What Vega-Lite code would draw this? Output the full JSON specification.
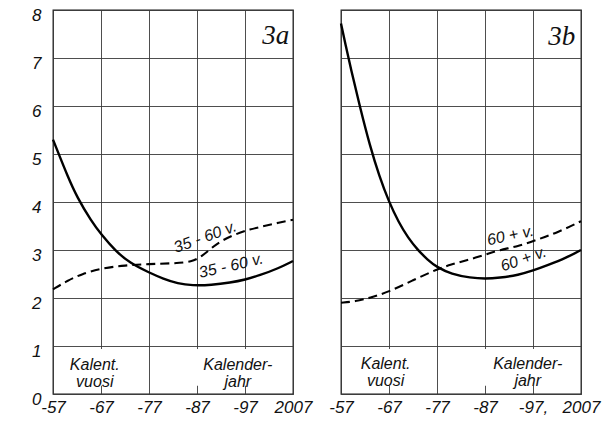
{
  "$schema": "https://vega.github.io/schema/vega-lite/v6.json",
  "background": "white",
  "padding": {"left": 30, "top": 5, "right": 5, "bottom": 5},
  "bounds": "flush",
  "spacing": 48,
  "datasets": {
    "curves": [
      {"panel": "a", "series": "solid", "year": 1957, "value": 5.3},
      {"panel": "a", "series": "solid", "year": 1958, "value": 5.05},
      {"panel": "a", "series": "solid", "year": 1960, "value": 4.55},
      {"panel": "a", "series": "solid", "year": 1962, "value": 4.1},
      {"panel": "a", "series": "solid", "year": 1965, "value": 3.6},
      {"panel": "a", "series": "solid", "year": 1967, "value": 3.33},
      {"panel": "a", "series": "solid", "year": 1970, "value": 2.98},
      {"panel": "a", "series": "solid", "year": 1973, "value": 2.73},
      {"panel": "a", "series": "solid", "year": 1977, "value": 2.53},
      {"panel": "a", "series": "solid", "year": 1980, "value": 2.4},
      {"panel": "a", "series": "solid", "year": 1983, "value": 2.3},
      {"panel": "a", "series": "solid", "year": 1986, "value": 2.26},
      {"panel": "a", "series": "solid", "year": 1990, "value": 2.27},
      {"panel": "a", "series": "solid", "year": 1994, "value": 2.32},
      {"panel": "a", "series": "solid", "year": 1997, "value": 2.38},
      {"panel": "a", "series": "solid", "year": 2000, "value": 2.47},
      {"panel": "a", "series": "solid", "year": 2004, "value": 2.62},
      {"panel": "a", "series": "solid", "year": 2007, "value": 2.77},
      {"panel": "a", "series": "dashed", "year": 1957, "value": 2.18},
      {"panel": "a", "series": "dashed", "year": 1960, "value": 2.36},
      {"panel": "a", "series": "dashed", "year": 1963, "value": 2.5},
      {"panel": "a", "series": "dashed", "year": 1967, "value": 2.62},
      {"panel": "a", "series": "dashed", "year": 1972, "value": 2.68},
      {"panel": "a", "series": "dashed", "year": 1977, "value": 2.71},
      {"panel": "a", "series": "dashed", "year": 1982, "value": 2.72},
      {"panel": "a", "series": "dashed", "year": 1986, "value": 2.75},
      {"panel": "a", "series": "dashed", "year": 1988, "value": 2.87},
      {"panel": "a", "series": "dashed", "year": 1990, "value": 3.04},
      {"panel": "a", "series": "dashed", "year": 1992, "value": 3.19},
      {"panel": "a", "series": "dashed", "year": 1995, "value": 3.33},
      {"panel": "a", "series": "dashed", "year": 1998, "value": 3.43},
      {"panel": "a", "series": "dashed", "year": 2001, "value": 3.5},
      {"panel": "a", "series": "dashed", "year": 2004, "value": 3.57},
      {"panel": "a", "series": "dashed", "year": 2007, "value": 3.63},
      {"panel": "b", "series": "solid", "year": 1957, "value": 7.72},
      {"panel": "b", "series": "solid", "year": 1958, "value": 7.25},
      {"panel": "b", "series": "solid", "year": 1959, "value": 6.8},
      {"panel": "b", "series": "solid", "year": 1961, "value": 5.96},
      {"panel": "b", "series": "solid", "year": 1963, "value": 5.18},
      {"panel": "b", "series": "solid", "year": 1965, "value": 4.53},
      {"panel": "b", "series": "solid", "year": 1967, "value": 4.0},
      {"panel": "b", "series": "solid", "year": 1969, "value": 3.58},
      {"panel": "b", "series": "solid", "year": 1971, "value": 3.25},
      {"panel": "b", "series": "solid", "year": 1973, "value": 3.0},
      {"panel": "b", "series": "solid", "year": 1975, "value": 2.8},
      {"panel": "b", "series": "solid", "year": 1977, "value": 2.64},
      {"panel": "b", "series": "solid", "year": 1980, "value": 2.5},
      {"panel": "b", "series": "solid", "year": 1984, "value": 2.42},
      {"panel": "b", "series": "solid", "year": 1987, "value": 2.4},
      {"panel": "b", "series": "solid", "year": 1990, "value": 2.42},
      {"panel": "b", "series": "solid", "year": 1994, "value": 2.48},
      {"panel": "b", "series": "solid", "year": 1997, "value": 2.57},
      {"panel": "b", "series": "solid", "year": 2000, "value": 2.68},
      {"panel": "b", "series": "solid", "year": 2004, "value": 2.84},
      {"panel": "b", "series": "solid", "year": 2007, "value": 3.0},
      {"panel": "b", "series": "dashed", "year": 1957, "value": 1.9},
      {"panel": "b", "series": "dashed", "year": 1960, "value": 1.93},
      {"panel": "b", "series": "dashed", "year": 1963, "value": 2.0},
      {"panel": "b", "series": "dashed", "year": 1967, "value": 2.13},
      {"panel": "b", "series": "dashed", "year": 1972, "value": 2.37},
      {"panel": "b", "series": "dashed", "year": 1977, "value": 2.6},
      {"panel": "b", "series": "dashed", "year": 1980, "value": 2.7},
      {"panel": "b", "series": "dashed", "year": 1983, "value": 2.78},
      {"panel": "b", "series": "dashed", "year": 1987, "value": 2.9},
      {"panel": "b", "series": "dashed", "year": 1990, "value": 3.0},
      {"panel": "b", "series": "dashed", "year": 1994, "value": 3.08},
      {"panel": "b", "series": "dashed", "year": 1998, "value": 3.22},
      {"panel": "b", "series": "dashed", "year": 2002, "value": 3.36},
      {"panel": "b", "series": "dashed", "year": 2007, "value": 3.6}
    ],
    "labels": [
      {"panel": "a", "id": "title", "text": "3a", "year": 2006.2, "value": 7.3},
      {"panel": "a", "id": "upper", "text": "35 - 60 v.", "year": 1988.7, "value": 3.27},
      {"panel": "a", "id": "lower", "text": "35 - 60 v.", "year": 1994.1, "value": 2.67},
      {"panel": "a", "id": "note", "text": "Kalent.\nvuosi", "year": 1965.7, "value": 0.6},
      {"panel": "a", "id": "note", "text": "Kalender-\njahr", "year": 1995.5, "value": 0.6},
      {"panel": "b", "id": "title", "text": "3b", "year": 2005.8, "value": 7.27},
      {"panel": "b", "id": "upper", "text": "60 + v.", "year": 1992.3, "value": 3.3},
      {"panel": "b", "id": "lower", "text": "60 + v.", "year": 1995.0, "value": 2.81},
      {"panel": "b", "id": "note", "text": "Kalent.\nvuosi", "year": 1966.3, "value": 0.62},
      {"panel": "b", "id": "note", "text": "Kalender-\njahr", "year": 1995.9, "value": 0.62}
    ],
    "boxes": [
      {"panel": "a", "year": 1959, "year2": 1975.5, "value": 0.17, "value2": 0.94},
      {"panel": "a", "year": 1979, "year2": 2005.5, "value": 0.17, "value2": 0.94},
      {"panel": "b", "year": 1959, "year2": 1975.5, "value": 0.17, "value2": 0.94},
      {"panel": "b", "year": 1979, "year2": 2005.5, "value": 0.17, "value2": 0.94}
    ]
  },
  "config": {
    "view": {"stroke": "#1a1a1a", "strokeWidth": 1.3},
    "axis": {
      "grid": true, "gridColor": "#3a3a3a", "gridWidth": 0.9, "gridOpacity": 1,
      "domain": false, "ticks": false, "title": null,
      "labelFont": "Liberation Sans", "labelFontStyle": "italic", "labelFontSize": 17,
      "labelColor": "#111", "labelOverlap": false, "labelFlush": false
    },
    "text": {"font": "Liberation Sans", "fontStyle": "italic", "color": "#111"}
  },
  "hconcat": [
    {
      "width": 240,
      "height": 384,
      "layer": [
        {
          "data": {"name": "boxes"},
          "transform": [{"filter": "datum.panel == 'a'"}],
          "mark": {"type": "rect", "fill": "white"},
          "encoding": {
            "x": {"field": "year", "type": "quantitative", "scale": {"domain": [1957, 2007], "nice": false, "zero": false},
                  "axis": {"values": [1957, 1967, 1977, 1987, 1997, 2007], "labelPadding": 5,
                           "labelExpr": "datum.value == 2007 ? '2007' : '-' + (datum.value - 1900)"}},
            "x2": {"field": "year2"},
            "y": {"field": "value", "type": "quantitative", "scale": {"domain": [0, 8], "nice": false, "zero": true},
                  "axis": {"values": [0, 1, 2, 3, 4, 5, 6, 7, 8], "labelPadding": 12, "labelOffset": 5}},
            "y2": {"field": "value2"}
          }
        },
        {
          "data": {"name": "curves"},
          "transform": [{"filter": "datum.panel == 'a' && datum.series == 'dashed'"}],
          "mark": {"type": "line", "interpolate": "basis", "color": "black", "strokeWidth": 2.1, "strokeDash": [9, 5]},
          "encoding": {
            "x": {"field": "year", "type": "quantitative"},
            "y": {"field": "value", "type": "quantitative"}
          }
        },
        {
          "data": {"name": "curves"},
          "transform": [{"filter": "datum.panel == 'a' && datum.series == 'solid'"}],
          "mark": {"type": "line", "interpolate": "basis", "color": "black", "strokeWidth": 2.4},
          "encoding": {
            "x": {"field": "year", "type": "quantitative"},
            "y": {"field": "value", "type": "quantitative"}
          }
        },
        {
          "data": {"name": "labels"},
          "transform": [{"filter": "datum.panel == 'a' && datum.id == 'title'"}],
          "mark": {"type": "text", "font": "Liberation Serif", "fontStyle": "italic", "fontSize": 27, "align": "right", "baseline": "alphabetic"},
          "encoding": {
            "x": {"field": "year", "type": "quantitative"},
            "y": {"field": "value", "type": "quantitative"},
            "text": {"field": "text"}
          }
        },
        {
          "data": {"name": "labels"},
          "transform": [{"filter": "datum.panel == 'a' && datum.id == 'upper'"}],
          "mark": {"type": "text", "fontSize": 16, "align": "center", "baseline": "middle", "angle": -20},
          "encoding": {
            "x": {"field": "year", "type": "quantitative"},
            "y": {"field": "value", "type": "quantitative"},
            "text": {"field": "text"}
          }
        },
        {
          "data": {"name": "labels"},
          "transform": [{"filter": "datum.panel == 'a' && datum.id == 'lower'"}],
          "mark": {"type": "text", "fontSize": 16, "align": "center", "baseline": "middle", "angle": -13},
          "encoding": {
            "x": {"field": "year", "type": "quantitative"},
            "y": {"field": "value", "type": "quantitative"},
            "text": {"field": "text"}
          }
        },
        {
          "data": {"name": "labels"},
          "transform": [{"filter": "datum.panel == 'a' && datum.id == 'note'"}],
          "mark": {"type": "text", "fontSize": 16, "align": "center", "baseline": "middle", "lineBreak": "\n", "lineHeight": 16.5},
          "encoding": {
            "x": {"field": "year", "type": "quantitative"},
            "y": {"field": "value", "type": "quantitative"},
            "text": {"field": "text"}
          }
        }
      ]
    },
    {
      "width": 240,
      "height": 384,
      "layer": [
        {
          "data": {"name": "boxes"},
          "transform": [{"filter": "datum.panel == 'b'"}],
          "mark": {"type": "rect", "fill": "white"},
          "encoding": {
            "x": {"field": "year", "type": "quantitative", "scale": {"domain": [1957, 2007], "nice": false, "zero": false},
                  "axis": {"values": [1957, 1967, 1977, 1987, 1997, 2007], "labelPadding": 5,
                           "labelExpr": "datum.value == 2007 ? '2007' : datum.value == 1997 ? '-97,' : '-' + (datum.value - 1900)"}},
            "x2": {"field": "year2"},
            "y": {"field": "value", "type": "quantitative", "scale": {"domain": [0, 8], "nice": false, "zero": true},
                  "axis": {"values": [0, 1, 2, 3, 4, 5, 6, 7, 8], "labels": false}},
            "y2": {"field": "value2"}
          }
        },
        {
          "data": {"name": "curves"},
          "transform": [{"filter": "datum.panel == 'b' && datum.series == 'dashed'"}],
          "mark": {"type": "line", "interpolate": "basis", "color": "black", "strokeWidth": 2.1, "strokeDash": [9, 5]},
          "encoding": {
            "x": {"field": "year", "type": "quantitative"},
            "y": {"field": "value", "type": "quantitative"}
          }
        },
        {
          "data": {"name": "curves"},
          "transform": [{"filter": "datum.panel == 'b' && datum.series == 'solid'"}],
          "mark": {"type": "line", "interpolate": "basis", "color": "black", "strokeWidth": 2.4},
          "encoding": {
            "x": {"field": "year", "type": "quantitative"},
            "y": {"field": "value", "type": "quantitative"}
          }
        },
        {
          "data": {"name": "labels"},
          "transform": [{"filter": "datum.panel == 'b' && datum.id == 'title'"}],
          "mark": {"type": "text", "font": "Liberation Serif", "fontStyle": "italic", "fontSize": 27, "align": "right", "baseline": "alphabetic"},
          "encoding": {
            "x": {"field": "year", "type": "quantitative"},
            "y": {"field": "value", "type": "quantitative"},
            "text": {"field": "text"}
          }
        },
        {
          "data": {"name": "labels"},
          "transform": [{"filter": "datum.panel == 'b' && datum.id == 'upper'"}],
          "mark": {"type": "text", "fontSize": 16, "align": "center", "baseline": "middle", "angle": -12},
          "encoding": {
            "x": {"field": "year", "type": "quantitative"},
            "y": {"field": "value", "type": "quantitative"},
            "text": {"field": "text"}
          }
        },
        {
          "data": {"name": "labels"},
          "transform": [{"filter": "datum.panel == 'b' && datum.id == 'lower'"}],
          "mark": {"type": "text", "fontSize": 16, "align": "center", "baseline": "middle", "angle": -19},
          "encoding": {
            "x": {"field": "year", "type": "quantitative"},
            "y": {"field": "value", "type": "quantitative"},
            "text": {"field": "text"}
          }
        },
        {
          "data": {"name": "labels"},
          "transform": [{"filter": "datum.panel == 'b' && datum.id == 'note'"}],
          "mark": {"type": "text", "fontSize": 16, "align": "center", "baseline": "middle", "lineBreak": "\n", "lineHeight": 16.5},
          "encoding": {
            "x": {"field": "year", "type": "quantitative"},
            "y": {"field": "value", "type": "quantitative"},
            "text": {"field": "text"}
          }
        }
      ]
    }
  ]
}
